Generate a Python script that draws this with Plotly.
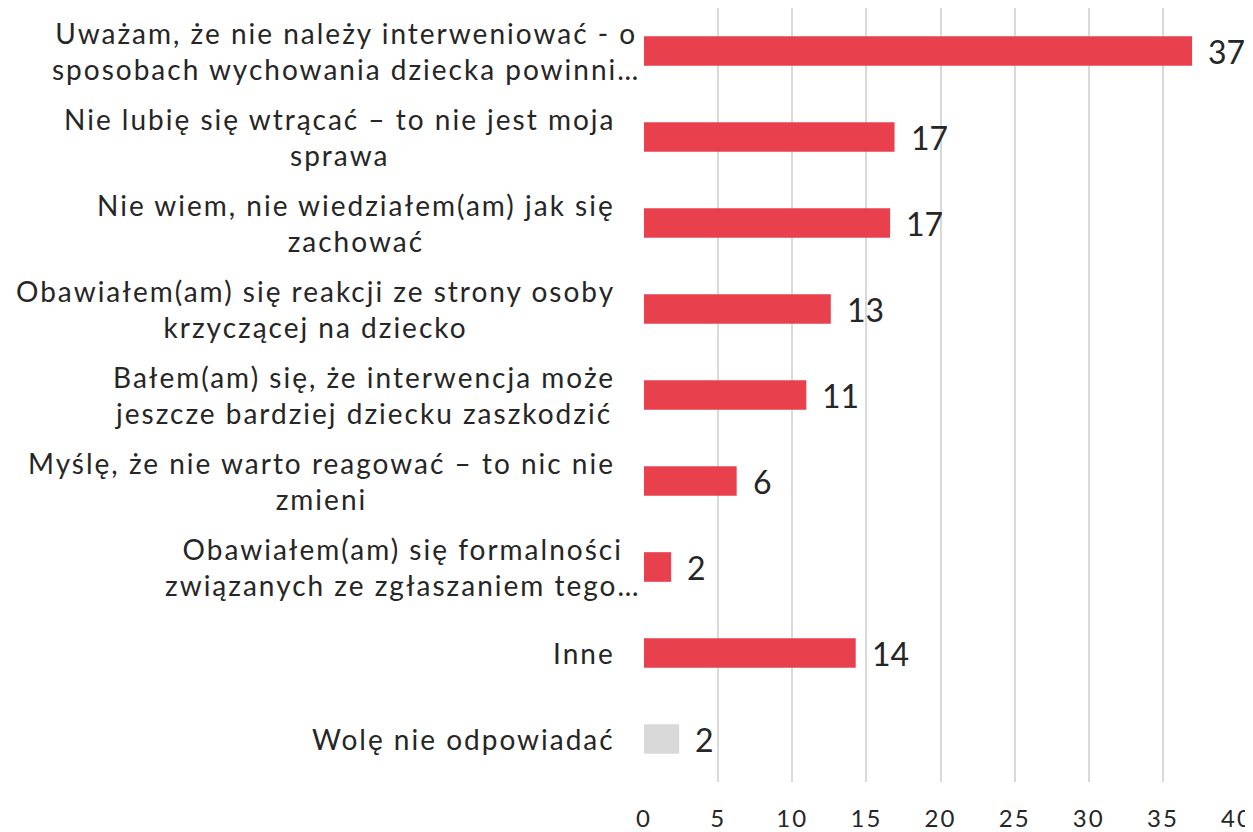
import plotly.graph_objects as go

categories = [
    "Uważam, że nie należy interweniować - o<br>sposobach wychowania dziecka powinni…",
    "Nie lubię się wtrącać – to nie jest moja<br>sprawa",
    "Nie wiem, nie wiedziałem(am) jak się<br>zachować",
    "Obawiałem(am) się reakcji ze strony osoby<br>krzyczącej na dziecko",
    "Bałem(am) się, że interwencja może<br>jeszcze bardziej dziecku zaszkodzić",
    "Myślę, że nie warto reagować – to nic nie<br>zmieni",
    "Obawiałem(am) się formalności<br>związanych ze zgłaszaniem tego…",
    "Inne",
    "Wolę nie odpowiadać",
]
values = [36.97, 16.9, 16.6, 12.6, 10.95, 6.25, 1.83, 14.28, 2.37]
x_ticks = [0, 5, 10, 15, 20, 25, 30, 35, 40]

RED = "#E8404C"
GRAY = "#D9D9D9"
TEXT = "#262626"
FONT = "Lato"


def spaced(text, px):
    return "<br>".join(
        f'<span style="letter-spacing:{px}px">{line}</span>' for line in text.split("<br>")
    )


colors = [GRAY if c == "Wolę nie odpowiadać" else RED for c in categories]
ids = list(range(len(categories)))

fig = go.Figure()
fig.add_trace(go.Bar(
    x=values, y=ids, orientation="h",
    marker=dict(color=colors, line=dict(width=0)),
    width=0.345, hoverinfo="skip",
))

annotations = []
for i, (c, v) in enumerate(zip(categories, values)):
    annotations.append(dict(
        x=v, y=i, xref="x", yref="y", text=str(round(v)),
        showarrow=False, xanchor="left", yanchor="middle", xshift=14,
        font=dict(family=FONT, size=32, color=TEXT),
    ))
    shift = -2 if c.endswith("…") else -27
    annotations.append(dict(
        x=0, y=i, xref="x", yref="y", text=spaced(c, 2),
        showarrow=False, xanchor="right", yanchor="middle", align="center",
        xshift=shift,
        font=dict(family=FONT, size=28, color=TEXT),
    ))

fig.update_layout(
    width=1245, height=824,
    margin=dict(l=636, r=15, t=0, b=43),
    paper_bgcolor="white", plot_bgcolor="white",
    showlegend=False,
    annotations=annotations,
    font=dict(family=FONT, color=TEXT),
    xaxis=dict(
        range=[0, 40], tickvals=x_ticks,
        ticktext=[spaced(str(t), 2) for t in x_ticks],
        showgrid=True, gridcolor="#D9D9D9", gridwidth=2,
        zeroline=False, showline=False, ticks="",
        ticklabelstandoff=20, ticklabeloverflow="allow",
        tickfont=dict(family=FONT, size=24, color=TEXT),
    ),
    yaxis=dict(
        range=[len(categories) - 0.5, -0.5],
        showticklabels=False, showgrid=False, zeroline=False, ticks="",
    ),
)

fig.write_html("out.html")
